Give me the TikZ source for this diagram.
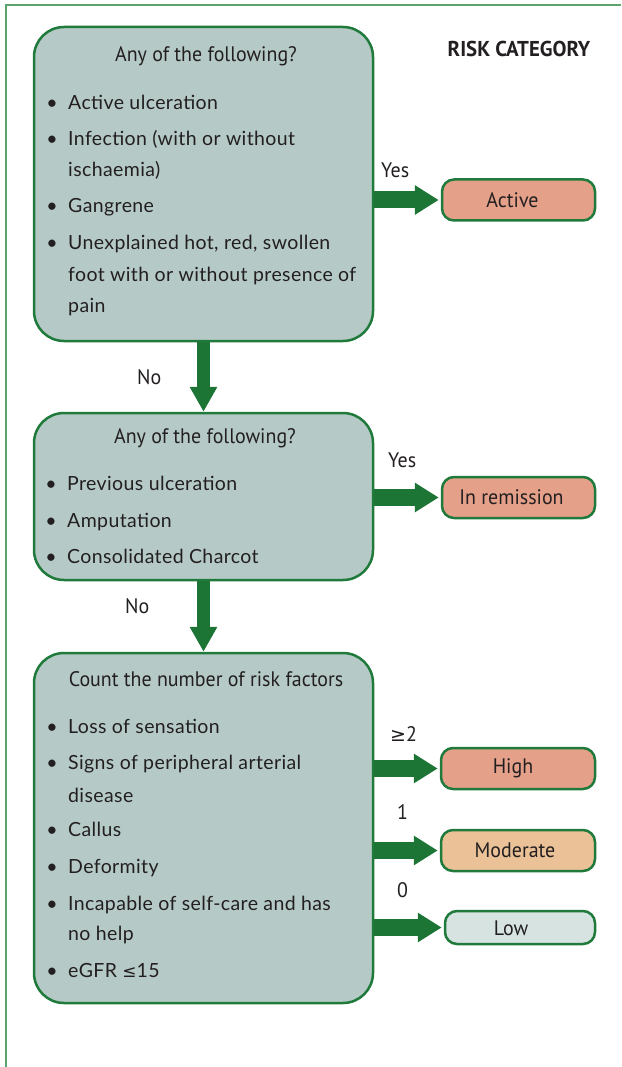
\documentclass[tikz,border=0pt]{standalone}
\usepackage{fontspec}
\setmainfont{Lato}[LetterSpace=2]
\newfontfamily\titlefont{PT Sans}[FakeStretch=0.95]
\newfontfamily\rcfont{PT Sans}[FakeStretch=0.97]
\newfontfamily\symfont{DejaVu Sans}
\usetikzlibrary{arrows.meta}
\definecolor{boxfill}{HTML}{B5CAC6}
\definecolor{boxdraw}{HTML}{1F7A3B}
\definecolor{arrowc}{HTML}{1C7535}
\definecolor{redfill}{HTML}{E4A089}
\definecolor{modfill}{HTML}{EBC197}
\definecolor{lowfill}{HTML}{D6E3E1}
\definecolor{framec}{HTML}{5DA36D}
\definecolor{txt}{HTML}{231F20}
\newcommand{\bodyfnt}{\fontsize{19.5}{23}\selectfont}
\newcommand{\titlefnt}{\titlefont\fontsize{21}{25}\selectfont}
\begin{document}
\begin{tikzpicture}[x=1pt,y=-1pt,
  mainbox/.style={draw=boxdraw, line width=2.5pt, fill=boxfill, rounded corners=30pt, minimum width=339pt, inner sep=0pt},
  resbox/.style={draw=boxdraw, line width=2.5pt, rounded corners=12pt, minimum width=153pt, minimum height=41pt, inner sep=0pt},
  restxt/.style={anchor=center, inner sep=0pt, font=\titlefnt, text=txt},
  harrow/.style={-{Triangle[width=28pt,length=24pt]}, line width=17pt, draw=arrowc, shorten >=2pt},
  varrow/.style={-{Triangle[width=26pt,length=25pt]}, line width=13pt, draw=arrowc},
  body/.style={anchor=base west, inner sep=0pt, font=\bodyfnt, text=txt},
  bul/.style={anchor=base, inner sep=0pt, font=\bodyfnt, text=txt},
  ttl/.style={anchor=base, inner sep=0pt, font=\titlefnt, text=txt},
  lab/.style={anchor=base west, inner sep=0pt, font=\titlefnt, text=txt}
]
\useasboundingbox (0,0) rectangle (621,1067);
% frame
\draw[framec, line width=1.5pt] (6,1067) -- (6,5) -- (621,5);
\node[anchor=base, inner sep=0pt, font=\rcfont\bfseries\fontsize{21.5}{25}\selectfont, text=txt] (rc) at (519,57) {RISK CATEGORY};

% main boxes
\node[mainbox, minimum height=314pt] (q1) at (203.5,184) {};
\node[mainbox, minimum height=167pt] (q2) at (203.5,496.5) {};
\node[mainbox, minimum height=350pt] (q3) at (203.5,828) {};

% result boxes
\node[resbox, fill=redfill] (active) at (518.5,200) {};
\node[resbox, fill=redfill] (remis) at (518.5,497.5) {};
\node[resbox, fill=redfill, minimum width=154pt] (high) at (518,768.5) {};
\node[resbox, fill=modfill, minimum width=154pt] (mod) at (518,850.5) {};
\node[resbox, fill=lowfill, minimum width=150pt, minimum height=33pt] (low) at (520,927.5) {};
\node[restxt] (tactive) at ([xshift=-6pt]active.center) {Active};
\node[restxt] (tremis) at ([xshift=-7pt]remis.center) {In remission};
\node[restxt] (thigh) at ([xshift=-5pt]high.center) {High};
\node[restxt] (tmod) at ([xshift=-3pt]mod.center) {Moderate};
\node[restxt] (tlow) at ([xshift=-9pt,yshift=-1pt]low.center) {Low};

% arrows
\draw[varrow] (q1.south) -- (q2.north);
\draw[varrow] (q2.south) -- (q3.north);
\draw[harrow] (q1.east |- active.west) -- (active.west);
\draw[harrow] (q2.east |- remis.west) -- (remis.west);
\draw[harrow] (q3.east |- high.west) -- (high.west);
\draw[harrow] (q3.east |- mod.west) -- (mod.west);
\draw[harrow] (q3.east |- low.west) -- (low.west);

% arrow labels
\node[lab] (y1) at (381,178) {Yes};
\node[lab] (y2) at (388,467) {Yes};
\node[lab] (n1) at (137,384) {No};
\node[lab] (n2) at (125,613) {No};
\node[lab] (l2) at (390,741) {{\symfont\fontsize{19}{23}\selectfont ≥}2};
\node[lab] (l1) at (397,819) {1};
\node[lab] (l0) at (397,897) {0};

% box 1 text
\node[ttl] (t1) at (206,62) {Any of the following?};
\node[bul] (b1a) at (52,110) {\textbullet};
\node[body] (a1) at (68,110) {Active ulceration};
\node[bul] (b1b) at (52,146) {\textbullet};
\node[body] (a2) at (68,146) {Infection (with or without};
\node[body] (a2b) at (68,177) {ischaemia)};
\node[bul] (b1c) at (52,213) {\textbullet};
\node[body] (a3) at (68,213) {Gangrene};
\node[bul] (b1d) at (52,249) {\textbullet};
\node[body] (a4) at (68,249) {Unexplained hot, red, swollen};
\node[body] (a4b) at (68,281) {foot with or without presence of};
\node[body] (a4c) at (68,312) {pain};

% box 2 text
\node[ttl] (t2) at (205,443) {Any of the following?};
\node[bul] (b2a) at (51,490) {\textbullet};
\node[body] (c1) at (67,490) {Previous ulceration};
\node[bul] (b2b) at (51,527) {\textbullet};
\node[body] (c2) at (67,527) {Amputation};
\node[bul] (b2c) at (51,563) {\textbullet};
\node[body] (c3) at (67,563) {Consolidated Charcot};

% box 3 text
\node[ttl] (t3) at (206,686) {Count the number of risk factors};
\node[bul] (b3a) at (52,733) {\textbullet};
\node[body] (d1) at (68,733) {Loss of sensation};
\node[bul] (b3b) at (52,769) {\textbullet};
\node[body] (d2) at (68,769) {Signs of peripheral arterial};
\node[body] (d2b) at (68,802) {disease};
\node[bul] (b3c) at (52,836) {\textbullet};
\node[body] (d3) at (68,836) {Callus};
\node[bul] (b3d) at (52,873) {\textbullet};
\node[body] (d4) at (68,873) {Deformity};
\node[bul] (b3e) at (52,910) {\textbullet};
\node[body] (d5) at (68,910) {Incapable of self-care and has};
\node[body] (d5b) at (68,940) {no help};
\node[bul] (b3f) at (52,977) {\textbullet};
\node[body] (d6) at (68,977) {eGFR {\symfont\fontsize{17}{23}\selectfont ≤}15};
\end{tikzpicture}
\end{document}
